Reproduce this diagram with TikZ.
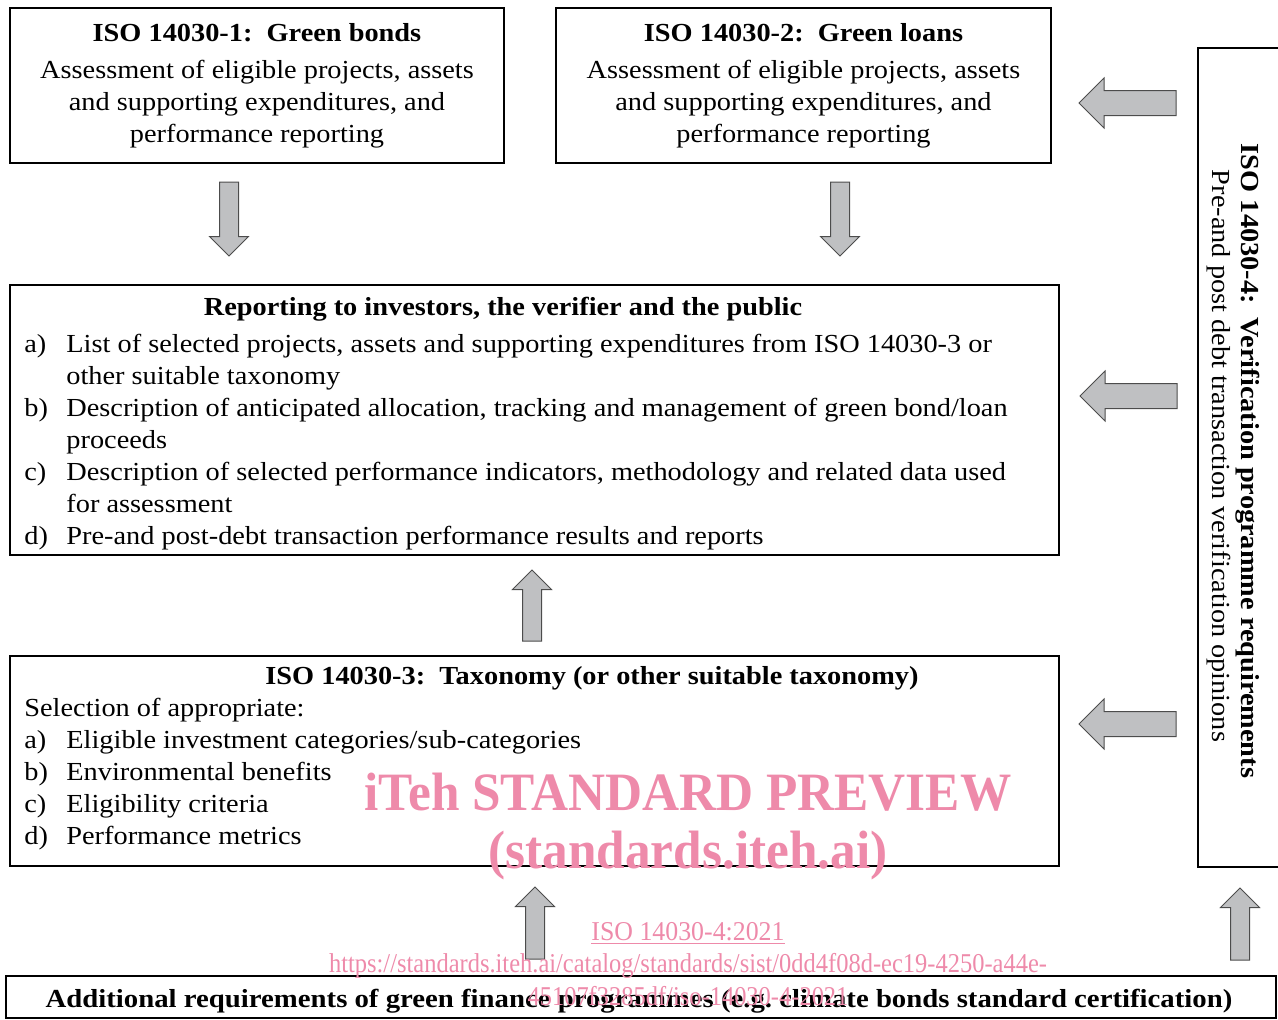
\documentclass[tikz,border=0pt]{standalone}
\usepackage{fontspec}
\setmainfont{Liberation Serif}[FakeStretch=1.09]
\newfontfamily\wmfont{Liberation Serif}[FakeStretch=0.95]
\newfontfamily\wmurlfont{Liberation Serif}[FakeStretch=0.9]
\usetikzlibrary{calc,positioning}

\definecolor{arrowgray}{RGB}{191,192,194}
\definecolor{wmpink}{RGB}{238,138,170}

% block arrow from tail #1 to tip #2, half shaft #3, half head #4
\newcommand\blockarrow[4]{%
  \draw[blockarrow] let \p1=($(#2)-(#1)$), \n1={atan2(\y1,\x1)}, \n2={veclen(\x1,\y1)} in
    [shift={(#1)}, rotate=\n1]
    (0pt,-#3) -- ({\n2*1pt-#4},-#3) -- ({\n2*1pt-#4},-#4) -- ({\n2*1pt},0pt)
    -- ({\n2*1pt-#4},#4) -- ({\n2*1pt-#4},#3) -- (0pt,#3) -- cycle;
}

\begin{document}
\begin{tikzpicture}[x=0.5pt, y=-0.5pt, font=\fontsize{13}{16}\selectfont,
    panel/.style={draw, line width=1pt, inner sep=0pt, anchor=north west},
    blockarrow/.style={draw=black!70, fill=arrowgray, line width=0.5pt},
    boldtext/.style={font=\fontsize{13}{16}\selectfont\bfseries},
    wm/.style={text=wmpink, inner sep=0pt}]
  \useasboundingbox (0,0) rectangle (1278,1019);

  % standards boxes
  \node[panel, minimum width=247pt, minimum height=77.5pt, align=center] (bonds) at (9,7)
    {\textbf{ISO 14030-1:\ \ Green bonds}\\[2.5pt]Assessment of eligible projects, assets\\and supporting expenditures, and\\performance reporting};
  \node[panel, minimum width=247.5pt, minimum height=77.5pt, align=center] (loans) at (555,7)
    {\textbf{ISO 14030-2:\ \ Green loans}\\[2.5pt]Assessment of eligible projects, assets\\and supporting expenditures, and\\performance reporting};

  % reporting
  \node[panel, minimum width=524.5pt, minimum height=135pt] (rep) at (9,284) {};
  \node[boldtext, anchor=base] (reptitle) at (503,315) {Reporting to investors, the verifier and the public};
  \node[anchor=base west, inner sep=0pt] (replist) at (24,352) {\begin{tabular}[t]{@{}p{21pt}@{}l@{}}
    a) & List of selected projects, assets and supporting expenditures from ISO 14030-3 or\\
       & other suitable taxonomy\\
    b) & Description of anticipated allocation, tracking and management of green bond/loan\\
       & proceeds\\
    c) & Description of selected performance indicators, methodology and related data used\\
       & for assessment\\
    d) & Pre-and post-debt transaction performance results and reports
  \end{tabular}};

  % taxonomy
  \node[panel, minimum width=524.5pt, minimum height=105pt] (tax) at (9,655) {};
  \node[boldtext, anchor=base] (taxtitle) at (592,684) {ISO 14030-3:\ \ Taxonomy (or other suitable taxonomy)};
  \node[anchor=base west, inner sep=0pt] (taxlist) at (24,716) {\begin{tabular}[t]{@{}p{21pt}@{}l@{}}
    \multicolumn{2}{@{}l@{}}{Selection of appropriate:}\\
    a) & Eligible investment categories/sub-categories\\
    b) & Environmental benefits\\
    c) & Eligibility criteria\\
    d) & Performance metrics
  \end{tabular}};

  % verification
  \node[panel, minimum width=46.5pt, minimum height=409.5pt] (verif) at (1197,47) {};
  \node[boldtext, rotate=-90, anchor=base] (veriftitle) at (1241,461) {ISO 14030-4:\ \ Verification programme requirements};
  \node[rotate=-90, anchor=base] (verifnote) at (1212,456) {Pre-and post debt transaction verification opinions};

  % programmes
  \node[panel, minimum width=635pt, minimum height=21pt] (add) at (5,975) {};
  \node[boldtext, anchor=base, xscale=1.015] (addtext) at (639,1007)
    {Additional requirements of green finance programmes (e.g.\ climate bonds standard certification)};

  % arrows
  \coordinate (d1a) at ($(bonds.south)+(-28,18)$);
  \coordinate (d1b) at ($(bonds.south)+(-28,92)$);
  \coordinate (d2a) at ($(loans.south)+(36.5,18)$);
  \coordinate (d2b) at ($(loans.south)+(36.5,92)$);
  \coordinate (u1a) at ($(tax.north)+(-2.5,-14)$);
  \coordinate (u1b) at ($(rep.south)+(-2.5,14)$);
  \coordinate (u2a) at ($(tax.south)+(0.5,92)$);
  \coordinate (u2b) at ($(tax.south)+(0.5,20)$);
  \coordinate (u3a) at ($(verif.south)+(-4.5,92)$);
  \coordinate (u3b) at ($(verif.south)+(-4.5,20)$);
  \coordinate (l1b) at ($(loans.north east)+(27,96)$);
  \coordinate (l2b) at ($(rep.north east)+(20,112)$);
  \coordinate (l3b) at ($(tax.north east)+(19,69)$);
  \coordinate (l1a) at ($(verif.west |- l1b)+(-21,0)$);
  \coordinate (l2a) at ($(verif.west |- l2b)+(-20,0)$);
  \coordinate (l3a) at ($(verif.west |- l3b)+(-21,0)$);

  \blockarrow{d1a}{d1b}{4.75pt}{9.75pt}
  \blockarrow{d2a}{d2b}{4.75pt}{9.75pt}
  \blockarrow{u1a}{u1b}{4.75pt}{9.75pt}
  \blockarrow{u2a}{u2b}{4.75pt}{9.75pt}
  \blockarrow{u3a}{u3b}{4.75pt}{9.75pt}
  \blockarrow{l1a}{l1b}{6.25pt}{12.5pt}
  \blockarrow{l2a}{l2b}{6.25pt}{12.5pt}
  \blockarrow{l3a}{l3b}{6.25pt}{12.5pt}

  % watermark
  \node[wm, font=\wmfont\bfseries\fontsize{27}{27}\selectfont, anchor=base] (wm1) at (688,810) {iTeh STANDARD PREVIEW};
  \node[wm, font=\wmfont\bfseries\fontsize{27}{27}\selectfont, anchor=base] (wm2) at (688,868) {(standards.iteh.ai)};
  \node[wm, font=\wmfont\fontsize{13.6}{14}\selectfont, anchor=base] (wm3) at (688,940) {\underline{ISO 14030-4:2021}};
  \node[wm, font=\wmurlfont\fontsize{13.6}{14}\selectfont, anchor=base] (wm4) at (688,972) {https://standards.iteh.ai/catalog/standards/sist/0dd4f08d-ec19-4250-a44e-};
  \node[wm, font=\wmurlfont\fontsize{13.6}{14}\selectfont, anchor=base] (wm5) at (688,1005) {45107f3285df/iso-14030-4-2021};
\end{tikzpicture}
\end{document}
